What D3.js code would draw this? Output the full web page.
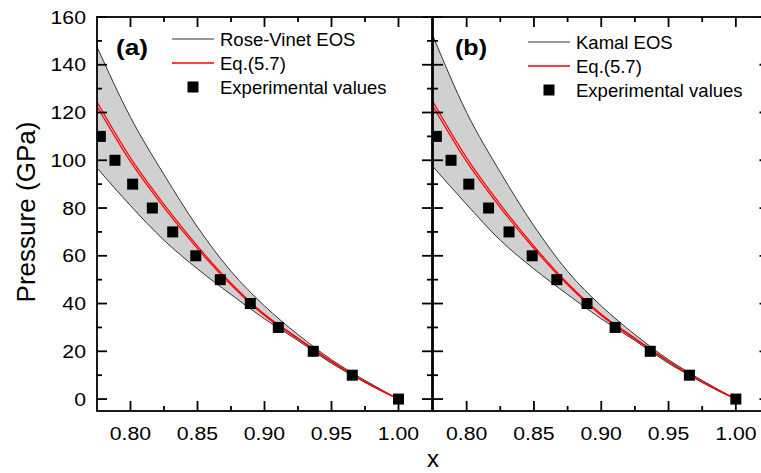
<!DOCTYPE html>
<html>
<head>
<meta charset="utf-8">
<script src="https://cdnjs.cloudflare.com/ajax/libs/d3/7.8.5/d3.min.js"></script>
<style>
  body { margin: 0; background: #fff; }
  text { font-family: Arial, "Liberation Sans", sans-serif; fill: #000; }
</style>
</head>
<body>
<svg id="chart" width="761" height="473"></svg>
<script>
// curve samples (x = V/V0 ratio, P in GPa)
var gridX      = [0.775, 0.80, 0.825, 0.85, 0.875, 0.90, 0.925, 0.95, 0.975, 1.00];
var roseUpper  = [147.5, 118,  94,    72,   53.5,  39,   27,    16.5, 7.8,   0];
var roseLower  = [96.8,  81,   66.5,  54.5, 43.8,  33.6, 24.5,  15.0, 7.0,   0];
var kamalUpper = [152,   120,  95,    72.5, 53.5,  39,   27,    16.5, 7.8,   0];
var kamalLower = [97.3,  81.5, 66.5,  54.5, 43.8,  33.6, 24.5,  15.0, 7.0,   0];
var eqA        = [124.5, 101,  81.5,  64,   48.5,  35.5, 25.5,  15.8, 7.2,   0];
var eqB        = [122.6, 99.4, 80.2,  63,   47.8,  35.0, 25.1,  15.6, 7.1,   0];

// experimental values
var expX = [0.7775, 0.7884, 0.8016, 0.8163, 0.8315, 0.8487, 0.867, 0.8894, 0.9103, 0.9364, 0.9655, 1.00];
var expP = [110, 100, 90, 80, 70, 60, 50, 40, 30, 20, 10, 0];

var xTicks = [0.80, 0.85, 0.90, 0.95, 1.00];
var xMinor = [0.825, 0.875, 0.925, 0.975];
var yTicks = [0, 20, 40, 60, 80, 100, 120, 140, 160];
var yMinor = [10, 30, 50, 70, 90, 110, 130, 150];

var panels = [
  {id: "a", label: "(a)", eosName: "Rose-Vinet EOS", upper: roseUpper, lower: roseLower,
   left: 97, right: 432, labelX: 116, legX: 172, legY: 39},
  {id: "b", label: "(b)", eosName: "Kamal EOS", upper: kamalUpper, lower: kamalLower,
   left: 433, right: 769.5, labelX: 455, legX: 528, legY: 42}
];

var svg = d3.select("#chart");
var plotTop = 17, plotBottom = 411;
var y = d3.scaleLinear().domain([-5, 160]).range([plotBottom, plotTop]);

function stretch(sel, k) {
  sel.each(function() {
    var len = this.getComputedTextLength();
    d3.select(this).attr("textLength", len * k).attr("lengthAdjust", "spacingAndGlyphs");
  });
}

panels.forEach(function(p) {
  var x = d3.scaleLinear().domain([0.775, 1.025]).range([p.left, p.right]);
  var g = svg.append("g");

  g.append("clipPath").attr("id", "clip-" + p.id)
    .append("rect").attr("x", p.left).attr("y", plotTop)
    .attr("width", p.right - p.left).attr("height", plotBottom - plotTop);

  var plot = g.append("g").attr("clip-path", "url(#clip-" + p.id + ")");

  var pts = gridX.map(function(d, i) { return {x: d, u: p.upper[i], l: p.lower[i], a: eqA[i], b: eqB[i]}; });

  var area = d3.area().curve(d3.curveMonotoneX)
    .x(function(d) { return x(d.x); })
    .y0(function(d) { return y(d.l); })
    .y1(function(d) { return y(d.u); });
  plot.append("path").datum(pts).attr("d", area).attr("fill", "#d0d0d0");

  ["u", "l"].forEach(function(k) {
    plot.append("path").datum(pts)
      .attr("d", d3.line().curve(d3.curveMonotoneX)
        .x(function(d) { return x(d.x); }).y(function(d) { return y(d[k]); }))
      .attr("fill", "none").attr("stroke", "#333").attr("stroke-width", 1);
  });
  ["a", "b"].forEach(function(k) {
    plot.append("path").datum(pts)
      .attr("d", d3.line().curve(d3.curveMonotoneX)
        .x(function(d) { return x(d.x); }).y(function(d) { return y(d[k]); }))
      .attr("fill", "none").attr("stroke", "#f00").attr("stroke-width", 1.2);
  });

  plot.selectAll("rect.exp").data(expX).enter().append("rect")
    .attr("class", "exp")
    .attr("x", function(d) { return x(d) - 5.5; })
    .attr("y", function(d, i) { return y(expP[i]) - 5.5; })
    .attr("width", 11).attr("height", 11).attr("fill", "#000");

  // frame + inward ticks
  var ax = g.append("g").attr("stroke", "#000").attr("stroke-width", 1.8);
  ax.append("rect").attr("x", p.left).attr("y", plotTop)
    .attr("width", p.right - p.left).attr("height", plotBottom - plotTop).attr("fill", "none");

  function xt(vals, len) {
    vals.forEach(function(v) {
      ax.append("line").attr("x1", x(v)).attr("x2", x(v)).attr("y1", plotBottom).attr("y2", plotBottom - len);
      ax.append("line").attr("x1", x(v)).attr("x2", x(v)).attr("y1", plotTop).attr("y2", plotTop + len);
    });
  }
  function yt(vals, len) {
    vals.forEach(function(v) {
      ax.append("line").attr("x1", p.left).attr("x2", p.left + len).attr("y1", y(v)).attr("y2", y(v));
      ax.append("line").attr("x1", p.right).attr("x2", p.right - len).attr("y1", y(v)).attr("y2", y(v));
    });
  }
  xt(xTicks, 10); xt(xMinor, 5);
  yt(yTicks, 10); yt(yMinor, 5);

  var xl = g.selectAll("text.xt").data(xTicks).enter().append("text")
    .attr("class", "xt")
    .attr("x", function(d) { return x(d); }).attr("y", 440)
    .attr("text-anchor", "middle").style("font-size", "18px")
    .text(function(d) { return d3.format(".2f")(d); });
  stretch(xl, 1.18);

  g.append("text").attr("x", p.labelX).attr("y", 55)
    .style("font-size", "22px").style("font-weight", "bold")
    .text(p.label).attr("textLength", 32).attr("lengthAdjust", "spacingAndGlyphs");

  // legend
  var lg = g.append("g").style("font-size", "18.5px");
  lg.append("line").attr("x1", p.legX).attr("x2", p.legX + 42)
    .attr("y1", p.legY).attr("y2", p.legY).attr("stroke", "#333").attr("stroke-width", 1);
  lg.append("line").attr("x1", p.legX).attr("x2", p.legX + 42)
    .attr("y1", p.legY + 24).attr("y2", p.legY + 24).attr("stroke", "#f00").attr("stroke-width", 1.5);
  lg.append("rect").attr("x", p.legX + 21 - 5.5).attr("y", p.legY + 48 - 5.5)
    .attr("width", 11).attr("height", 11).attr("fill", "#000");
  lg.selectAll("text").data([p.eosName, "Eq.(5.7)", "Experimental values"]).enter().append("text")
    .attr("x", p.legX + 48).attr("y", function(d, i) { return p.legY + 6.5 + i * 24; })
    .text(function(d) { return d; });
});

// shared y axis labels
var yl = svg.selectAll("text.yt").data(yTicks).enter().append("text")
  .attr("class", "yt")
  .attr("x", 86).attr("y", function(d) { return y(d) + 6.5; })
  .attr("text-anchor", "end").style("font-size", "18px")
  .text(function(d) { return d; });
stretch(yl, 1.18);

svg.append("text").attr("transform", "translate(35,212) rotate(-90)")
  .attr("text-anchor", "middle").style("font-size", "25px")
  .attr("textLength", 181).attr("lengthAdjust", "spacingAndGlyphs")
  .text("Pressure (GPa)");

svg.append("text").attr("x", 433).attr("y", 467)
  .attr("text-anchor", "middle").style("font-size", "24px").text("x");
</script>
</body>
</html>
